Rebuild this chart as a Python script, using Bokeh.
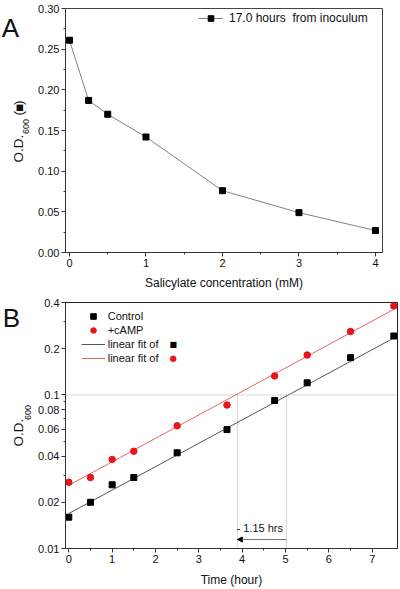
import math
from bokeh.plotting import figure
from bokeh.layouts import column, row
from bokeh.models import (Range1d, FixedTicker, NumeralTickFormatter, Label, Legend,
                          LegendItem, Arrow, NormalHead, Span)
from bokeh.embed import file_html
from bokeh.resources import INLINE

FONT = "Liberation Sans"

# ---------------- Panel A data ----------------
sal_conc = [0, 0.25, 0.5, 1, 2, 3, 4]
od_17h = [0.261, 0.187, 0.170, 0.142, 0.076, 0.049, 0.027]
a_xticks = [0, 1, 2, 3, 4]
a_xminor = [0.5, 1.5, 2.5, 3.5]
a_yticks = [0.00, 0.05, 0.10, 0.15, 0.20, 0.25, 0.30]
a_yminor = [0.025, 0.075, 0.125, 0.175, 0.225, 0.275]
a_legend = "17.0 hours  from inoculum"

# ---------------- Panel B data ----------------
time_h = [0, 0.5, 1, 1.5, 2.5, 3.65, 4.75, 5.5, 6.5, 7.5]
od_control = [0.016, 0.020, 0.026, 0.029, 0.042, 0.0595, 0.092, 0.120, 0.175, 0.242]
od_camp = [0.027, 0.029, 0.038, 0.043, 0.063, 0.086, 0.133, 0.182, 0.259, 0.380]
fit_time = [0, 7.5]
fit_control = [0.0169, 0.235]
fit_camp = [0.0258, 0.361]
b_xticks = [0, 1, 2, 3, 4, 5, 6, 7]
b_xminor = [0.5, 1.5, 2.5, 3.5, 4.5, 5.5, 6.5]
b_yticks = [0.01, 0.02, 0.04, 0.06, 0.08, 0.1, 0.2, 0.4]
b_yminor = [0.03, 0.05, 0.07, 0.09, 0.3]
threshold_od = 0.1
cross_time = [3.89, 5.02]
doubling_label = "- 1.15 hrs"

# ---------------- geometry (page pixels) ----------------
SW = 34                       # strip holding panel letters / y labels
H1 = 292
H2 = 589 - H1
FL, FH = 65, 246              # frame left (page), frame height
FT1 = 8                       # panel A frame top (page)
FT2 = 302                     # panel B frame top (page)
FW1, FW2 = 317, 332
AX = (-0.052, 4.092)
AY = (0.0, 0.30)
BX = (-0.076, 7.584)
BY = (0.01, 0.4)


def a_data(px, py):
    x = AX[0] + (px - FL) / FW1 * (AX[1] - AX[0])
    y = AY[0] + (FT1 + FH - py) / FH * (AY[1] - AY[0])
    return x, y


def b_data(px, py):
    x = BX[0] + (px - FL) / FW2 * (BX[1] - BX[0])
    ly = math.log10(BY[0]) + (FT2 + FH - py) / FH * (math.log10(BY[1]) - math.log10(BY[0]))
    return x, 10 ** ly


def style_axes(p):
    for ax in (p.xaxis[0], p.yaxis[0]):
        ax.axis_line_color = "#333333"
        ax.major_tick_line_color = "#333333"
        ax.minor_tick_line_color = "#333333"
        ax.major_tick_in = 0
        ax.major_tick_out = 4
        ax.minor_tick_in = 0
        ax.minor_tick_out = 2
        ax.major_label_text_font = FONT
        ax.major_label_text_font_size = "11px"
        ax.major_label_text_color = "#111111"
        ax.major_label_standoff = 2
        ax.axis_label_text_font = FONT
        ax.axis_label_text_font_size = "12px"
        ax.axis_label_text_font_style = "normal"
        ax.axis_label_text_color = "#111111"
    p.xgrid.visible = False
    p.ygrid.visible = False
    p.outline_line_color = "#444444"
    p.outline_line_alpha = 1.0


def strip(height):
    s = figure(width=SW, height=height, x_range=Range1d(0, SW), y_range=Range1d(height, 0),
               output_backend="svg", toolbar_location=None, x_axis_type=None,
               y_axis_type=None, min_border=0, min_border_left=0, min_border_right=0,
               min_border_top=0, min_border_bottom=0, frame_align=False)
    s.outline_line_color = None
    s.xgrid.visible = False
    s.ygrid.visible = False
    return s


def add_text(p, x, y, text, size, angle=0.0, align="left", baseline="middle",
             color="#111111", font=FONT):
    p.add_layout(Label(x=x, y=y, text=text, angle=angle, text_align=align,
                       text_baseline=baseline, text_font=font, text_font_size=size,
                       text_color=color))


# ---------------- Panel A ----------------
p1 = figure(width=400 - SW, height=H1, x_range=Range1d(*AX), y_range=Range1d(*AY),
            output_backend="svg", toolbar_location=None, frame_align=False,
            min_border_left=FL - SW, min_border_right=400 - FL - FW1,
            min_border_top=FT1, min_border_bottom=H1 - FT1 - FH)
style_axes(p1)
p1.xaxis.ticker = FixedTicker(ticks=a_xticks, minor_ticks=a_xminor)
p1.yaxis.ticker = FixedTicker(ticks=a_yticks, minor_ticks=a_yminor)
p1.yaxis.formatter = NumeralTickFormatter(format="0.00")
p1.xaxis.axis_label = "Salicylate concentration (mM)"
p1.xaxis.axis_label_standoff = 6

ra_line = p1.line(sal_conc, od_17h, line_color="#808080", line_width=1)
ra_pts = p1.scatter(sal_conc, od_17h, marker="square", size=6, fill_color="black",
                    line_color="black")
leg1 = Legend(items=[LegendItem(label=a_legend, renderers=[ra_line, ra_pts])],
              location=(133, 227), padding=0, margin=0, spacing=0,
              glyph_width=25, glyph_height=14, label_height=14, label_standoff=6,
              label_text_font=FONT, label_text_font_size="12px",
              label_text_color="#111111",
              border_line_color=None, background_fill_alpha=0)
p1.add_layout(leg1)

s1 = strip(H1)
add_text(s1, 18.3, 162.0, "O.D.", "13.5px", angle=math.pi / 2)
add_text(s1, 25.5, 133.5, "600", "9px", angle=math.pi / 2)
add_text(s1, 18.3, 115.0, "(", "13.5px", angle=math.pi / 2)
add_text(s1, 18.3, 107.5, "\u25a0", "8.5px", angle=math.pi / 2, align="center",
         font="DejaVu Sans")
add_text(s1, 18.3, 104.5, ")", "13.5px", angle=math.pi / 2)
add_text(s1, 10, 27, "A", "26px", align="center", baseline="alphabetic")

# ---------------- Panel B ----------------
p2 = figure(width=400 - SW, height=H2, x_range=Range1d(*BX), y_range=Range1d(*BY),
            y_axis_type="log", output_backend="svg", toolbar_location=None,
            frame_align=False,
            min_border_left=FL - SW, min_border_right=400 - FL - FW2,
            min_border_top=FT2 - H1, min_border_bottom=589 - FT2 - FH)
style_axes(p2)
p2.outline_line_color = "#222222"
p2.xaxis.ticker = FixedTicker(ticks=b_xticks, minor_ticks=b_xminor)
p2.yaxis.ticker = FixedTicker(ticks=b_yticks, minor_ticks=b_yminor)
p2.yaxis.formatter = NumeralTickFormatter(format="0.[00]")
p2.xaxis.axis_label = "Time (hour)"
p2.xaxis.axis_label_standoff = 7

# reference dotted lines
p2.add_layout(Span(location=threshold_od, dimension="width", line_color="#b0b0b0",
                   line_dash="1 1", line_width=1))
p2.segment(x0=cross_time, y0=[BY[0]] * len(cross_time), x1=cross_time,
           y1=[threshold_od] * len(cross_time), line_color="#b0b0b0", line_dash="1 1",
           line_width=1)

r_fit_c = p2.line(fit_time, fit_control, line_color="#555555", line_width=1)
r_fit_a = p2.line(fit_time, fit_camp, line_color="#e06a6a", line_width=1)
r_ctrl = p2.scatter(time_h, od_control, marker="square", size=6, fill_color="black",
                    line_color="black")
r_camp = p2.scatter(time_h, od_camp, marker="circle", size=6.5, fill_color="#e8141b",
                    line_color="#e8141b")

arr_y = b_data(0, 539)[1]
p2.add_layout(Arrow(end=NormalHead(size=5, fill_color="black", line_color="black"),
                    x_start=cross_time[1], y_start=arr_y, x_end=cross_time[0], y_end=arr_y,
                    line_color="#777777", line_width=1))
tx, ty = b_data(236, 527)
add_text(p2, tx, ty, doubling_label, "11px")

leg2 = Legend(items=[LegendItem(label="Control", renderers=[r_ctrl]),
                     LegendItem(label="+cAMP", renderers=[r_camp]),
                     LegendItem(label="linear fit of", renderers=[r_fit_c]),
                     LegendItem(label="linear fit of", renderers=[r_fit_a])],
              location=(15.7, 183), padding=0, margin=0, spacing=0,
              glyph_width=24, glyph_height=14, label_height=14, label_standoff=3,
              label_text_font=FONT, label_text_font_size="11px",
              label_text_color="#111111",
              border_line_color=None, background_fill_alpha=0)
p2.add_layout(leg2)
mx, my = b_data(172.7, 343.5)
add_text(p2, mx, my, "\u25a0", "8px", align="center", font="DejaVu Sans", color="black")
mx, my = b_data(172.7, 357.7)
add_text(p2, mx, my, "\u25cf", "8.5px", align="center", font="DejaVu Sans",
         color="#e8141b")

s2 = strip(H2)
add_text(s2, 18.3, 446.0 - H1, "O.D.", "13.5px", angle=math.pi / 2)
add_text(s2, 27.0, 419.5 - H1, "600", "9px", angle=math.pi / 2)
add_text(s2, 11, 317 - H1, "B", "26px", align="center", baseline="alphabetic")

layout = column(row(s1, p1, spacing=0), row(s2, p2, spacing=0), spacing=0)
open("out.html", "w").write(file_html(layout, INLINE))
